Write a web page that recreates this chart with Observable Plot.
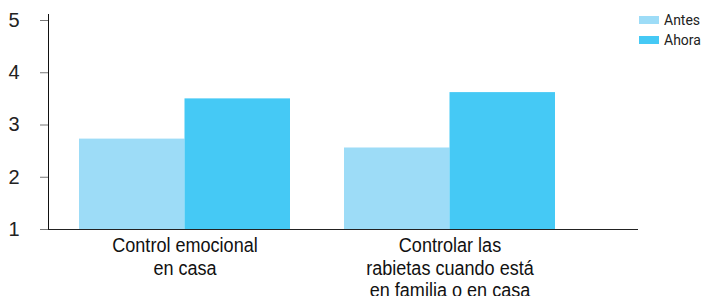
<!DOCTYPE html>
<html><head><meta charset="utf-8">
<script src="https://cdn.jsdelivr.net/npm/d3@7"></script>
<script src="https://cdn.jsdelivr.net/npm/@observablehq/plot@0.6"></script>
<style>
body{margin:0;background:#fff;}
#wrap{position:relative;width:702px;height:296px;overflow:hidden;}
#legend{position:absolute;left:639px;top:10px;font-family:Roboto,"Liberation Sans",sans-serif;font-size:14px;color:#222;}
#legend .row{display:flex;align-items:center;height:20px;}
#legend .sw{width:20px;height:8px;margin-right:5px;}
</style></head>
<body><div id="wrap"><div id="legend"></div></div>
<script>
const categories = ["Control emocional\nen casa", "Controlar las\nrabietas cuando está\nen familia o en casa"];
const series = ["Antes", "Ahora"];
const antes = [2.73, 2.56];
const ahora = [3.5, 3.62];
const yTicks = [1, 2, 3, 4, 5];
const colors = ["#9ddcf7", "#45c9f5"];

const data = categories.flatMap((c, i) => [
  {category: c, series: "Antes", value: antes[i]},
  {category: c, series: "Ahora", value: ahora[i]}
]);

const chart = Plot.plot({
  width: 702, height: 296,
  marginLeft: 48, marginRight: 64, marginTop: 14, marginBottom: 67,
  style: {fontFamily: "Liberation Sans, sans-serif", background: "transparent"},
  x: {domain: categories, range: [79, 555], paddingInner: 54/265, paddingOuter: 0, axis: null},
  y: {domain: [1, 5.115], axis: null},
  color: {domain: series, range: colors},
  marks: [
    Plot.barY(data.filter(d => d.series === "Antes"), {x: "category", y1: 1, y2: "value", fill: "series", insetRight: 105.5}),
    Plot.barY(data.filter(d => d.series === "Ahora"), {x: "category", y1: 1, y2: "value", fill: "series", insetLeft: 105.5}),
    Plot.axisY({ticks: yTicks, tickFormat: d => String(d), label: null, tickSize: 8, tickPadding: 21, stroke: "#777", fill: "#222", fontSize: 20}),
    Plot.frame({anchor: "left", stroke: "#111"}),
    Plot.ruleY([1], {stroke: "#222"}),
    Plot.text(categories, {x: d => d, frameAnchor: "bottom", lineAnchor: "top", dy: 7, lineHeight: 1.07, fontSize: 21, fill: "#111"})
  ]
});
document.getElementById("wrap").prepend(chart);
chart.querySelectorAll('g[aria-label="text"] text').forEach(t => {
  t.setAttribute("transform", (t.getAttribute("transform") || "") + " scale(0.86,1)");
});
const lg = document.getElementById("legend");
series.forEach((s, i) => {
  const r = document.createElement("div"); r.className = "row";
  r.innerHTML = `<span class="sw" style="background:${colors[i]}"></span><span>${s}</span>`;
  lg.appendChild(r);
});
</script></body></html>
